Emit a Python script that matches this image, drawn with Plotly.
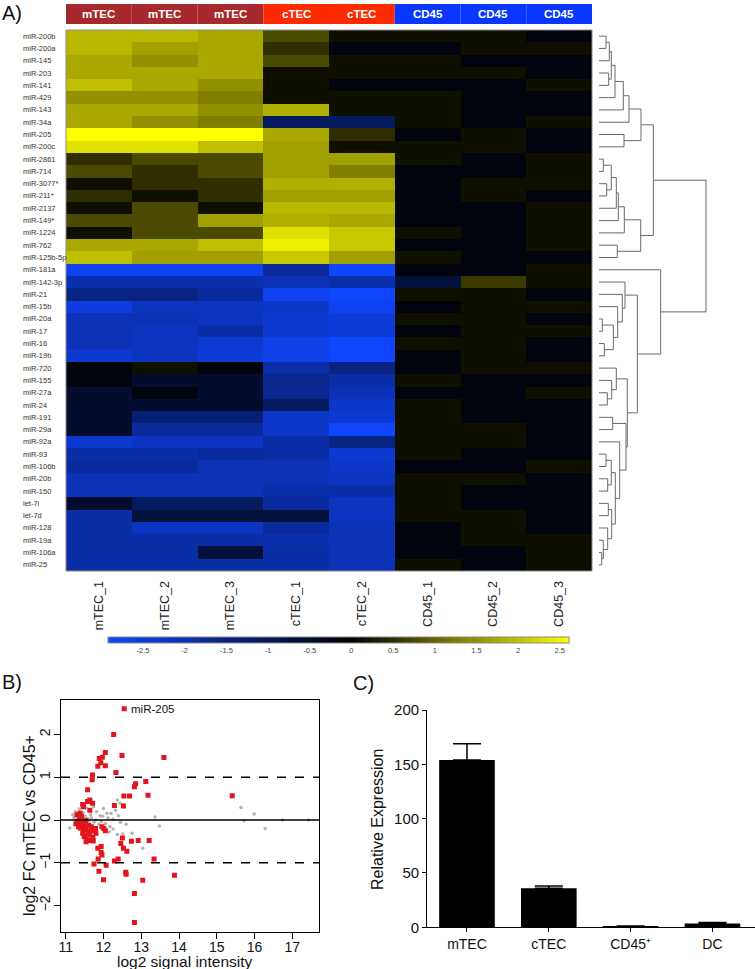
import plotly.graph_objects as go

W, H = 755, 969
FONT = "Liberation Sans, Arial, sans-serif"


def fx(p):
    return p / W


def fy(p):
    return 1 - p / H


# ---------------- Panel A data ----------------
mirnas = ["miR-200b", "miR-200a", "miR-145", "miR-203", "miR-141", "miR-429", "miR-143", "miR-34a",
          "miR-205", "miR-200c", "miR-2861", "miR-714", "miR-3077*", "miR-211*", "miR-2137", "miR-149*",
          "miR-1224", "miR-762", "miR-125b-5p", "miR-181a", "miR-142-3p", "miR-21", "miR-15b", "miR-20a",
          "miR-17", "miR-16", "miR-19b", "miR-720", "miR-155", "miR-27a", "miR-24", "miR-191", "miR-29a",
          "miR-92a", "miR-93", "miR-106b", "miR-20b", "miR-150", "let-7i", "let-7d", "miR-128", "miR-19a",
          "miR-106a", "miR-25"]
samples = ["mTEC_1", "mTEC_2", "mTEC_3", "cTEC_1", "cTEC_2", "CD45_1", "CD45_2", "CD45_3"]
groups = ["mTEC", "mTEC", "mTEC", "cTEC", "cTEC", "CD45", "CD45", "CD45"]
group_colors = {"mTEC": "#A8292D", "cTEC": "#FF2A00", "CD45": "#0A37FF"}

expr = [
    [1.88, 1.88, 1.72, 0.76, 0.15, 0.15, 0.15, -0.15],
    [1.88, 1.64, 1.72, 0.47, -0.15, -0.15, 0.15, 0.15],
    [1.72, 1.47, 1.72, 0.76, 0.15, 0.15, -0.15, -0.15],
    [1.72, 1.72, 1.72, 0.15, 0.15, 0.15, 0.15, -0.15],
    [1.95, 1.72, 1.47, 0.15, -0.15, -0.15, -0.15, 0.15],
    [1.47, 1.47, 1.31, 0.15, 0.15, 0.15, -0.15, -0.15],
    [1.72, 1.72, 1.47, 1.80, 0.15, 0.15, -0.15, -0.15],
    [1.72, 1.47, 1.31, -1.10, -1.10, 0.15, -0.15, 0.15],
    [2.60, 2.60, 2.60, 1.72, 0.47, -0.15, 0.15, -0.15],
    [2.30, 2.30, 1.95, 1.64, 0.15, 0.15, 0.15, -0.15],
    [0.47, 0.76, 0.76, 1.64, 1.64, 0.15, -0.15, 0.15],
    [0.76, 0.47, 0.76, 1.64, 1.31, -0.15, -0.15, 0.15],
    [0.15, 0.47, 0.47, 1.80, 1.80, -0.15, 0.15, 0.15],
    [0.47, 0.15, 0.47, 1.64, 1.64, -0.15, 0.15, -0.15],
    [0.15, 0.76, 0.15, 1.88, 1.88, -0.15, -0.15, 0.15],
    [0.76, 0.76, 1.64, 1.80, 1.72, -0.15, -0.15, 0.15],
    [0.15, 0.76, 0.76, 2.30, 2.05, 0.15, -0.15, 0.15],
    [1.72, 1.72, 1.95, 2.45, 2.05, -0.15, -0.15, 0.15],
    [1.95, 1.64, 1.64, 2.05, 1.64, 0.15, -0.15, -0.15],
    [-2.75, -2.75, -2.75, -1.80, -2.90, -0.15, -0.15, 0.15],
    [-2.00, -2.00, -2.00, -2.10, -1.95, -0.70, 0.60, 0.15],
    [-1.50, -1.50, -1.80, -2.75, -2.90, 0.15, 0.15, -0.15],
    [-2.55, -2.20, -2.20, -2.28, -2.75, -0.15, 0.15, 0.15],
    [-2.10, -2.10, -2.20, -2.38, -2.47, 0.15, 0.15, -0.15],
    [-2.10, -2.20, -1.90, -2.38, -2.47, -0.15, 0.15, 0.15],
    [-2.10, -2.20, -2.38, -2.65, -2.90, 0.15, 0.15, -0.15],
    [-2.38, -2.20, -2.47, -2.65, -2.90, -0.15, 0.15, -0.15],
    [-0.15, 0.15, -0.15, -1.90, -1.50, -0.15, 0.15, 0.15],
    [-0.15, -0.50, -0.50, -1.65, -1.90, 0.15, -0.15, -0.15],
    [-0.50, -0.15, -0.50, -1.65, -2.10, -0.15, -0.15, 0.15],
    [-0.50, -0.50, -0.50, -1.10, -2.30, 0.15, -0.15, -0.15],
    [-0.50, -1.30, -1.30, -2.30, -2.38, 0.15, -0.15, -0.15],
    [-0.50, -1.80, -1.80, -2.30, -2.90, 0.15, 0.15, -0.15],
    [-2.38, -2.20, -2.20, -1.90, -1.50, 0.15, 0.15, -0.15],
    [-1.90, -1.90, -1.80, -1.90, -2.38, 0.15, -0.15, -0.15],
    [-1.80, -1.80, -2.10, -2.10, -2.30, -0.15, -0.15, 0.15],
    [-2.10, -2.10, -2.10, -2.10, -2.20, 0.15, 0.15, -0.15],
    [-2.10, -2.10, -2.10, -1.95, -1.90, 0.15, -0.15, -0.15],
    [-0.50, -1.10, -1.10, -1.80, -2.20, 0.15, -0.15, -0.15],
    [-1.90, -0.70, -0.70, -0.70, -2.20, 0.15, 0.15, -0.15],
    [-1.90, -2.20, -2.20, -1.80, -2.10, -0.15, 0.15, -0.15],
    [-1.90, -1.90, -1.90, -2.00, -2.10, -0.15, 0.15, 0.15],
    [-1.90, -1.90, -0.70, -1.90, -2.10, -0.15, -0.15, 0.15],
    [-1.90, -1.90, -1.90, -1.90, -2.10, 0.15, -0.15, 0.15],
]
zmin, zmax = -2.92, 2.61
cbar_tickvals = [-2.5, -2, -1.5, -1, -0.5, 0, 0.5, 1, 1.5, 2, 2.5]
cbar_ticktext = ["-2.5", "-2", "-1.5", "-1", "-0.5", "0", "0.5", "1", "1.5", "2", "2.5"]

# Row dendrogram: (left, right, merge height); ints are row indices
yel_a = (((((((0, 1, 7.0), 2, 10.3), (3, 4, 9.7), 12.3), 5, 16.0), 6, 24.3), 7, 30.0), (8, 9, 25.0), 42.0)
yel_b = ((((((10, 11, 4.3), (12, 13, 7.7), 12.3), 14, 17.3), 15, 19.3), 16, 25.3), (17, 18, 18.3), 41.7)
blue_x = (20, (21, (22, ((23, 24, 3.3), (25, 26, 5.3), 14.3), 18.7), 23.3), 26.0)
blue_w = (27, (28, (29, 30, 8.3), 12.7), 17.3)
blue_z = ((31, 32, 13.7),
          (33, (((34, 35, 7.0), (36, 37, 8.7), 12.3),
                ((38, 39, 9.3), (40, (41, (42, 43, 2.7), 4.3), 8.7), 12.7), 16.3), 20.7), 27.0)
dendro_tree = ((yel_a, yel_b, 54.3), (19, (blue_x, (blue_w, blue_z, 28.3), 38.3), 61.7), 107.0)

# ---------------- Panel B data ----------------
ma_red = [(12.55, 2.60), (12.27, 2.00), (13.60, 1.46), (12.49, 1.51), (12.05, 1.58), (11.97, 1.47),
          (11.89, 1.44), (11.93, 1.34), (11.85, 1.26), (12.05, 1.27), (12.33, 1.11), (11.71, 1.05),
          (11.70, 0.94), (12.85, 0.85), (12.82, 0.78), (13.12, 0.90), (11.58, 0.71), (12.54, 0.56),
          (12.69, 0.56), (13.18, 0.58), (15.41, 0.57), (11.64, 0.47), (11.58, 0.43), (11.71, 0.39),
          (11.45, 0.36), (11.47, 0.31), (12.29, 0.34), (12.53, 0.33), (11.64, 0.23), (11.38, 0.16),
          (11.30, 0.12), (11.42, 0.08), (11.31, -0.04), (11.36, -0.09), (11.43, -0.14), (11.38, -0.19),
          (11.47, -0.23), (11.54, -0.18), (11.59, -0.27), (11.79, -0.20), (11.45, -0.31), (11.52, -0.37),
          (11.64, -0.35), (11.72, -0.41), (11.57, -0.47), (11.64, -0.48), (11.54, -0.51), (11.73, -0.49),
          (11.34, -0.16), (11.41, -0.06), (12.01, -0.20), (12.05, -0.25), (11.96, -0.16), (11.94, -0.62),
          (11.85, -0.66), (11.94, -0.76), (11.96, -0.82), (11.86, -0.91), (11.75, -1.03), (12.07, -1.06),
          (12.29, -0.96), (12.39, -0.91), (12.46, -0.55), (12.50, -0.42), (12.53, -0.66), (12.62, -0.73),
          (12.74, -0.50), (12.92, -0.48), (13.21, -0.48), (13.34, -0.91), (11.88, -1.20), (12.59, -1.22),
          (12.60, -1.27), (13.88, -1.29), (12.00, -1.40), (13.04, -1.41), (12.82, -1.72), (12.82, -2.40),
          (11.37, 0.02), (11.53, -0.01), (11.27, -0.09), (11.49, -0.10), (11.61, -0.12), (11.68, -0.16),
          (11.80, -0.31), (11.71, -0.25), (11.49, -0.39)]
ma_gray = [(15.64, 0.29), (15.72, -0.02), (15.99, 0.14), (16.28, -0.20), (16.74, 0.0), (17.43, 0.0),
           (13.37, 0.07), (13.48, -0.14), (13.04, -0.66), (12.76, -0.31), (12.37, 0.47), (12.44, 0.39),
           (11.11, -0.19), (11.19, 0.12), (11.26, 0.19), (11.74, 0.31), (12.09, 0.16), (12.20, 0.16),
           (11.91, 0.10), (11.82, 0.19), (11.66, 0.12), (11.54, 0.28), (12.17, -0.16), (12.26, -0.21),
           (12.37, -0.34), (12.51, -0.33), (11.94, -0.04), (12.05, -0.08), (11.80, 0.0), (11.58, 0.03),
           (11.46, 0.17), (11.36, 0.26), (12.00, 0.27), (12.32, 0.23), (11.42, 0.04), (11.22, 0.06),
           (11.30, 0.02), (11.52, 0.09), (11.68, 0.05), (11.88, -0.10), (12.12, 0.05), (12.25, 0.02),
           (11.98, 0.09), (12.45, -0.05), (12.15, -0.28), (11.75, -0.05), (11.28, -0.05), (11.62, -0.02),
           (12.60, -0.10), (12.40, 0.10)]
ma_label = "miR-205"
ma_label_point = (12.55, 2.60)

# ---------------- Panel C data ----------------
qpcr_cells = ["mTEC", "cTEC", "CD45⁺", "DC"]
qpcr_mean = [154, 36, 1.0, 3.5]
qpcr_err = [15, 2, 0.3, 1.0]


# ---------------- build figure ----------------
def dendro_segments(node, xs, ys):
    if isinstance(node, int):
        return float(node), 0.0
    left, right, h = node
    yl, hl = dendro_segments(left, xs, ys)
    yr, hr = dendro_segments(right, xs, ys)
    xs += [hl, h, h, hr, None]
    ys += [yl, yl, yr, yr, None]
    return (yl + yr) / 2, h


fig = go.Figure()

zero_pos = (0 - zmin) / (zmax - zmin)
fig.add_trace(go.Heatmap(
    z=expr, x=list(range(len(samples))), y=list(range(len(mirnas))),
    zmin=zmin, zmax=zmax,
    colorscale=[[0, "rgb(15,70,255)"], [zero_pos, "rgb(0,0,0)"], [1, "rgb(255,255,0)"]],
    hoverinfo="skip",
    colorbar=dict(orientation="h", x=fx(108), xanchor="left", y=fy(637), yanchor="top",
                  len=(569 - 108) / W, lenmode="fraction", thickness=6, thicknessmode="pixels",
                  xpad=0, ypad=0, outlinewidth=1, outlinecolor="#888",
                  tickmode="array", tickvals=cbar_tickvals, ticktext=cbar_ticktext,
                  tickfont=dict(size=7.5, color="#444", family=FONT), ticks=""),
    xaxis="x", yaxis="y"))

dx, dy = [], []
dendro_segments(dendro_tree, dx, dy)
fig.add_trace(go.Scatter(x=dx, y=dy, mode="lines", line=dict(color="#6a6a6a", width=1),
                         xaxis="x2", yaxis="y", hoverinfo="skip", showlegend=False))

fig.add_trace(go.Scatter(x=[p[0] for p in ma_gray], y=[p[1] for p in ma_gray], mode="markers",
                         marker=dict(color="#b4b4b4", size=3.5, symbol="circle"),
                         xaxis="x3", yaxis="y3", showlegend=False))
fig.add_trace(go.Scatter(x=[p[0] for p in ma_red], y=[p[1] for p in ma_red], mode="markers",
                         marker=dict(color="#E3141B", size=5, symbol="square"),
                         xaxis="x3", yaxis="y3", showlegend=False))

fig.add_trace(go.Bar(x=qpcr_cells, y=qpcr_mean, marker=dict(color="black", line=dict(width=0)),
                     width=0.68,
                     error_y=dict(type="data", array=qpcr_err, arrayminus=[0] * len(qpcr_err),
                                  symmetric=False, color="black", thickness=1.5, width=14),
                     xaxis="x4", yaxis="y4", showlegend=False))

shapes = []
annotations = []

# header bar
for i, g in enumerate(groups):
    shapes.append(dict(type="rect", xref="x", yref="paper", x0=i - 0.5, x1=i + 0.5,
                       y0=fy(24), y1=fy(4), fillcolor=group_colors[g], line=dict(width=0)))
    annotations.append(dict(text="<b>%s</b>" % g, x=i, xref="x", y=fy(14), yref="paper",
                            xanchor="center", yanchor="middle",
                            showarrow=False, font=dict(color="white", size=11.5, family=FONT)))
# heatmap frame
shapes.append(dict(type="rect", xref="x domain", yref="y domain", x0=0, x1=1, y0=0, y1=1,
                   line=dict(color="#8a8a8a", width=1)))
# row labels
for i, name in enumerate(mirnas):
    annotations.append(dict(text=name, x=fx(21), xref="paper", xanchor="left", y=i, yref="y",
                            yanchor="middle",
                            showarrow=False, font=dict(size=7.5, color="#333", family=FONT)))

# MA reference lines
for yv, dash in [(0, "solid"), (1, "dash"), (-1, "dash")]:
    shapes.append(dict(type="line", xref="x3 domain", x0=0, x1=1, yref="y3", y0=yv, y1=yv,
                       line=dict(color="black", width=1.3, dash=dash)))
annotations.append(dict(text=ma_label, x=ma_label_point[0], y=ma_label_point[1], xref="x3", yref="y3",
                        xanchor="left", yanchor="middle", xshift=5, showarrow=False,
                        font=dict(size=11.5, color="#111", family=FONT)))
annotations.append(dict(text="log2 signal intensity", x=fx(185), y=fy(961), xref="paper", yref="paper",
                        xanchor="center", yanchor="middle", borderpad=0,
                        showarrow=False, font=dict(size=15.5, color="#111", family=FONT)))
annotations.append(dict(text="log2 FC mTEC vs CD45+", x=fx(29), y=fy(826), xref="paper", yref="paper",
                        xanchor="center", yanchor="middle",
                        textangle=-90, showarrow=False, font=dict(size=16, color="#111", family=FONT)))
annotations.append(dict(text="Relative Expression", x=fx(377), y=fy(820), xref="paper", yref="paper",
                        xanchor="center", yanchor="middle",
                        textangle=-90, showarrow=False, font=dict(size=16, color="#111", family=FONT)))

# panel labels
for lab, px, py in [("A)", 0, 0), ("B)", 0, 669), ("C)", 351, 670)]:
    annotations.append(dict(text=lab, x=fx(px), y=fy(py), xref="paper", yref="paper",
                            xanchor="left", yanchor="top", showarrow=False,
                            font=dict(size=20, color="#111", family=FONT)))

fig.update_layout(
    width=W, height=H, margin=dict(l=0, r=0, t=0, b=0, pad=0, autoexpand=False),
    paper_bgcolor="white", plot_bgcolor="white", showlegend=False,
    font=dict(family=FONT, color="#111"),
    xaxis=dict(domain=[fx(66), fx(592)], range=[-0.5, 7.5], anchor="y",
               tickmode="array", tickvals=list(range(len(samples))), ticktext=samples,
               tickangle=-90, tickfont=dict(size=12.5, color="#222", family=FONT),
               ticks="outside", ticklen=4, tickcolor="rgba(0,0,0,0)",
               showgrid=False, zeroline=False, showline=False),
    yaxis=dict(domain=[fy(571), fy(30)], range=[len(mirnas) - 0.5, -0.5], anchor="x",
               showticklabels=False, showgrid=False, zeroline=False, showline=False, ticks=""),
    xaxis2=dict(domain=[fx(599), fx(720)], range=[0, 121], anchor="y", visible=False),
    xaxis3=dict(domain=[fx(61), fx(319)], range=[10.876, 17.706], anchor="y3",
                tickmode="array", tickvals=[11, 12, 13, 14, 15, 16, 17],
                showline=True, mirror=True, linecolor="black", linewidth=1.3,
                ticks="outside", ticklen=6, tickwidth=1.2, tickcolor="black", ticklabelstandoff=-4,
                tickfont=dict(size=14, color="#111", family=FONT),
                showgrid=False, zeroline=False),
    yaxis3=dict(domain=[fy(931.7), fy(700)], range=[-2.613, 2.807], anchor="x3",
                tickmode="array", tickvals=[-2, -1, 0, 1, 2], tickangle=-90,
                showline=True, mirror=True, linecolor="black", linewidth=1.3,
                ticks="outside", ticklen=6, tickwidth=1.2, tickcolor="black", ticklabelstandoff=-2,
                tickfont=dict(size=14, color="#111", family=FONT),
                showgrid=False, zeroline=False),
    xaxis4=dict(domain=[fx(427.3), 1.0], range=[-0.485, 3.52], anchor="y4",
                showline=True, linecolor="black", linewidth=1.3,
                ticks="outside", ticklen=4, tickwidth=1.2, tickcolor="black",
                tickfont=dict(size=14, color="#111", family=FONT),
                showgrid=False, zeroline=False),
    yaxis4=dict(domain=[fy(927.3), fy(710)], range=[0, 200], anchor="x4",
                tickmode="array", tickvals=[0, 50, 100, 150, 200],
                showline=True, linecolor="black", linewidth=1.3,
                ticks="outside", ticklen=4, tickwidth=1.2, tickcolor="black",
                tickfont=dict(size=15, color="#111", family=FONT),
                showgrid=False, zeroline=False),
    shapes=shapes, annotations=annotations,
)

fig.write_html("out.html", config={"displayModeBar": False},
               post_script="document.body.style.margin='0px';document.body.style.padding='0px';")
